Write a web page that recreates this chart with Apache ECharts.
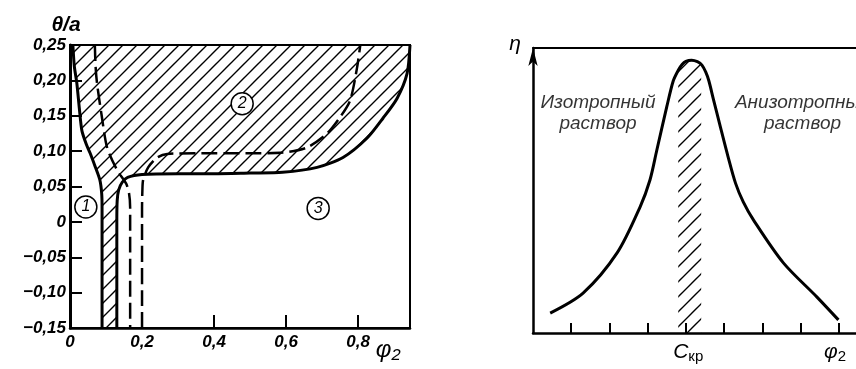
<!DOCTYPE html>
<html><head><meta charset="utf-8">
<script src="https://cdn.jsdelivr.net/npm/echarts@6/dist/echarts.min.js"></script>
<style>html,body{margin:0;padding:0;background:#fff}#c{width:856px;height:369px}</style>
</head><body><div id="c"></div>
<script>
// ---------- data: left panel (phi2, theta/a) ----------
const leftSolid = [[0.008,0.25],[0.012,0.22],[0.019,0.196],[0.026,0.16],[0.033,0.129],[0.045,0.11],[0.056,0.097],[0.07,0.078],[0.083,0.059],[0.088,0.04],[0.089,0.02],[0.089,-0.15]];
const rightSolid = [[0.13,-0.15],[0.13,0.0],[0.131,0.03],[0.135,0.045],[0.145,0.056],[0.16,0.063],[0.2,0.067],[0.3,0.068],[0.4,0.068],[0.5,0.069],[0.59,0.07],[0.686,0.077],[0.758,0.091],[0.825,0.1185],[0.869,0.1465],[0.908,0.1745],[0.936,0.21],[0.944,0.25]];
const dashedA = [[0.069,0.25],[0.071,0.22],[0.075,0.196],[0.088,0.15],[0.103,0.105],[0.131,0.073],[0.156,0.054],[0.164,0.04],[0.167,0.02],[0.167,-0.15]];
const dashedB = [[0.2,-0.15],[0.2,0.02],[0.201,0.045],[0.203,0.059],[0.217,0.077],[0.242,0.091],[0.27,0.096],[0.35,0.097],[0.5,0.097],[0.592,0.098],[0.658,0.105],[0.714,0.125],[0.75,0.148],[0.778,0.172],[0.797,0.218],[0.806,0.25]];
const regionMarks = [[0.044,0.021,'1'],[0.478,0.167,'2'],[0.689,0.019,'3']];
const leftXRange = [0, 0.944];
const leftYRange = [-0.15, 0.25];

// ---------- data: right panel (phi2, eta) ----------
const viscCurve = [[0.45,0.70],[1.31,1.40],[2.2,2.81],[2.8,4.42],[3.06,5.37],[3.24,6.42],[3.5,7.94],[3.67,8.85],[3.8,9.22],[3.9,9.42],[4.0,9.53],[4.15,9.57],[4.3,9.52],[4.42,9.4],[4.52,9.15],[4.6,8.85],[4.72,8.2],[4.9,7.24],[5.1,6.2],[5.3,5.25],[5.5,4.6],[5.77,3.96],[6.55,2.46],[7.43,1.26],[7.99,0.46]];
const critBand = [3.8, 4.4];
const rightTicks = [1,2,3,4,5,6,7,8];
const rightLabels = [[4.06,'C'],[7.9,'φ']];
const phaseTexts = [[1.7,7.7,'Изотропный\nраствор'],[7.05,7.7,'Анизотропный\nраствор']];

// ---------- helpers ----------
function interp(curve, x){
  for(let i=0;i<curve.length-1;i++){
    const a=curve[i], b=curve[i+1];
    if(x>=a[0] && x<=b[0]){ const t=(x-a[0])/(b[0]-a[0]); return a[1]+t*(b[1]-a[1]); }
  }
  return 0;
}
function hatch(size){
  const c=document.createElement('canvas'); c.width=size; c.height=size;
  const g=c.getContext('2d'); g.strokeStyle='#000'; g.lineWidth=1.4;
  g.beginPath();
  g.moveTo(0,size); g.lineTo(size,0);
  g.moveTo(-size/2,size/2); g.lineTo(size/2,-size/2);
  g.moveTo(size/2,size*1.5); g.lineTo(size*1.5,size/2);
  g.stroke();
  return c;
}
const leftPoly = leftSolid.concat(rightSolid);
const stripPoly = [[critBand[0],0],[critBand[0],interp(viscCurve,critBand[0])]]
  .concat(viscCurve.filter(p=>p[0]>critBand[0]&&p[0]<critBand[1]))
  .concat([[critBand[1],interp(viscCurve,critBand[1])],[critBand[1],0]]);

const FF = '"Liberation Sans", Arial, sans-serif';
const axisFont = {color:'#000', fontSize:17, fontStyle:'italic', fontWeight:'bold', fontFamily:FF};
const fmtY = v => Math.abs(v)<1e-9 ? '0' : (v<0?'−':'') + Math.abs(v).toFixed(2).replace('.',',');
const fmtX = v => Math.abs(v)<1e-9 ? '0' : v.toFixed(1).replace('.',',');

const chart = echarts.init(document.getElementById('c'), null, {renderer:'canvas'});
const polyItem = (poly, tile) => function(params, api){
  return {type:'polygon', shape:{points: poly.map(p=>api.coord(p))},
          style:{fill:{image:hatch(tile), repeat:'repeat'}, stroke:null}};
};
const lineBase = {type:'line', symbol:'none', silent:true, animation:false};

chart.setOption({
  animation:false,
  grid:[
    {left:70, top:45, width:340, height:283, show:true, borderColor:'#000', borderWidth:2},
    {left:533, top:48, width:323, height:285, show:false}
  ],
  xAxis:[
    {gridIndex:0, type:'value', min:leftXRange[0], max:leftXRange[1], interval:0.2,
     axisLine:{onZero:false, lineStyle:{color:'#000', width:2.5}},
     axisTick:{inside:true, length:13, lineStyle:{color:'#000', width:2}},
     axisLabel:Object.assign({formatter:fmtX, showMaxLabel:false, margin:6}, axisFont),
     splitLine:{show:false},
     name:'φ₂', nameLocation:'end', nameGap:-37,
     nameTextStyle:{color:'#000', fontSize:24, fontStyle:'italic', fontFamily:FF, align:'left', verticalAlign:'top', padding:[10,0,0,0]}},
    {gridIndex:1, type:'value', min:0, max:8.45, interval:1,
     axisLine:{onZero:false, lineStyle:{color:'#000', width:2.5}},
     axisTick:{inside:true, length:10, customValues:rightTicks, lineStyle:{color:'#000', width:2}},
     axisLabel:{customValues:rightLabels.map(d=>d[0]), margin:8,
       formatter:function(v){ const d=rightLabels.find(r=>Math.abs(r[0]-v)<1e-6); if(!d) return ''; return d[1]==='C' ? '{c|C}{s|кр}' : '{c|φ}{s|2}'; },
       rich:{c:{fontSize:21, fontStyle:'italic', fontFamily:FF, color:'#000'}, s:{fontSize:15, fontFamily:FF, color:'#000', verticalAlign:'bottom', padding:[8,0,0,0]}}},
     splitLine:{show:false}},
    {gridIndex:1, type:'value', position:'top', min:0, max:8.45,
     axisLine:{onZero:false, lineStyle:{color:'#000', width:2}}, axisTick:{show:false}, axisLabel:{show:false}, splitLine:{show:false}}
  ],
  yAxis:[
    {gridIndex:0, type:'value', min:leftYRange[0], max:leftYRange[1], interval:0.05,
     axisLine:{onZero:false, lineStyle:{color:'#000', width:3}},
     axisTick:{inside:true, length:12, lineStyle:{color:'#000', width:2}},
     axisLabel:Object.assign({formatter:fmtY, margin:4}, axisFont),
     splitLine:{show:false},
     name:'θ/a', nameLocation:'end', nameGap:9,
     nameTextStyle:{color:'#000', fontSize:21, fontStyle:'italic', fontWeight:'bold', fontFamily:FF, align:'center', padding:[0,8,0,0]}},
    {gridIndex:1, type:'value', min:0, max:10,
     axisLine:{show:true, onZero:false, symbol:['none','arrow'], symbolSize:[7,18], lineStyle:{color:'#000', width:2.5}},
     axisTick:{show:false}, axisLabel:{show:false}, splitLine:{show:false},
     name:'η', nameLocation:'end', nameGap:4,
     nameTextStyle:{color:'#000', fontSize:21, fontStyle:'italic', fontFamily:FF, align:'right', verticalAlign:'middle', padding:[0,12,0,0]}}
  ],
  series:[
    {type:'custom', xAxisIndex:0, yAxisIndex:0, data:[[0,0]], silent:true, renderItem:polyItem(leftPoly,14)},
    Object.assign({}, lineBase, {xAxisIndex:0, yAxisIndex:0, data:leftSolid, smooth:0.25, lineStyle:{color:'#000', width:3}}),
    Object.assign({}, lineBase, {xAxisIndex:0, yAxisIndex:0, data:rightSolid, smooth:0.25, lineStyle:{color:'#000', width:3}}),
    Object.assign({}, lineBase, {xAxisIndex:0, yAxisIndex:0, data:dashedA, smooth:0.25, lineStyle:{color:'#000', width:2.5, type:[16,6]}}),
    Object.assign({}, lineBase, {xAxisIndex:0, yAxisIndex:0, data:dashedB, smooth:0.25, lineStyle:{color:'#000', width:2.5, type:[16,6]}}),
    {type:'scatter', xAxisIndex:0, yAxisIndex:0, data:regionMarks, symbol:'circle', symbolSize:22, silent:true,
     itemStyle:{color:'#fff', borderColor:'#000', borderWidth:1.5, opacity:1},
     label:{show:true, position:'inside', formatter:p=>p.data[2], color:'#000', fontSize:16, fontStyle:'italic', fontFamily:FF}},
    {type:'custom', xAxisIndex:1, yAxisIndex:1, data:[[0,0]], silent:true, renderItem:polyItem(stripPoly,15)},
    Object.assign({}, lineBase, {xAxisIndex:1, yAxisIndex:1, data:viscCurve, smooth:0.3, lineStyle:{color:'#000', width:3}}),
    {type:'scatter', xAxisIndex:1, yAxisIndex:1, data:phaseTexts, symbolSize:0, silent:true, clip:false,
     label:{show:true, position:'inside', formatter:p=>p.data[2], color:'#000', fontSize:19, lineHeight:21, fontStyle:'italic', fontFamily:FF, align:'center'}}
  ]
});
</script></body></html>
